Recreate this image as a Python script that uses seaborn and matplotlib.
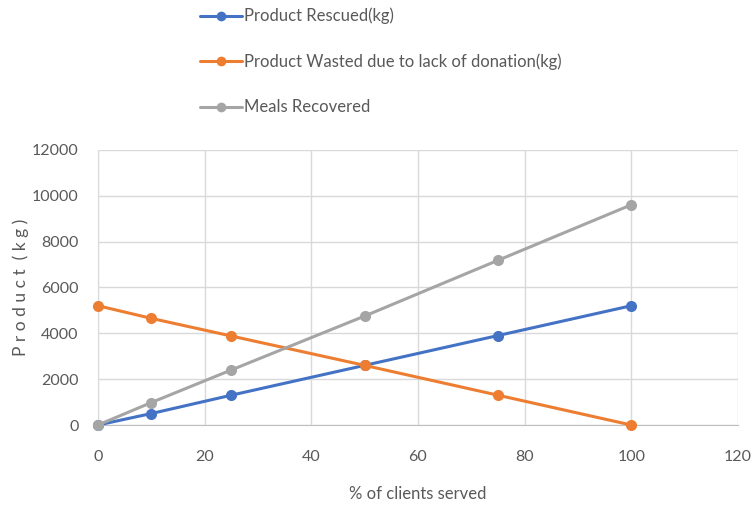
import numpy as np
import pandas as pd
import seaborn as sns
import matplotlib.pyplot as plt

# data
clients = [0, 10, 25, 50, 75, 100]
rescued = [0, 500, 1300, 2600, 3900, 5200]
wasted = [5200, 4650, 3880, 2600, 1300, 0]
meals = [0, 980, 2400, 4750, 7180, 9600]
series_names = ["Product Rescued(kg)",
                "Product Wasted due to lack of donation(kg)",
                "Meals Recovered"]
colors = ["#4472c4", "#ed7d31", "#a5a5a5"]

df = pd.DataFrame({
    "clients": clients * 3,
    "value": rescued + wasted + meals,
    "series": np.repeat(series_names, len(clients)),
})

sns.set_style("white")
plt.rcParams["font.family"] = ["Lato", "DejaVu Sans"]
txt = "#595959"

fig = plt.figure(figsize=(7.51, 5.05), dpi=100)
ax = fig.add_axes([0.1305, 0.1584, 0.852, 0.545])

sns.lineplot(data=df, x="clients", y="value", hue="series", hue_order=series_names,
             palette=colors, marker="o", markersize=8, markeredgewidth=0,
             linewidth=2.2, ax=ax, legend=False, clip_on=False, zorder=3)

ax.set_xlim(0, 120)
ax.set_ylim(0, 12000)
ax.set_xticks(range(0, 121, 20))
ax.set_yticks(range(0, 12001, 2000))
ax.grid(True, color="#d9d9d9", linewidth=1)
for s in ["top", "right"]:
    ax.spines[s].set_visible(False)
ax.spines["left"].set_color("#d9d9d9")
ax.spines["bottom"].set_color("#bfbfbf")
ax.tick_params(axis="both", colors=txt, labelsize=11.5, length=0)
ax.tick_params(axis="x", pad=18)
ax.tick_params(axis="y", pad=14)
ax.set_xlabel("% of clients served", color=txt, fontsize=12, labelpad=16)
ax.set_ylabel("P r o d u c t  ( k g )", color=txt, fontsize=12.5, labelpad=2)

handles = [plt.Line2D([], [], color=c, marker="o", markersize=7, linewidth=2.2,
                      markeredgewidth=0) for c in colors]
leg = fig.legend(handles, series_names, loc="upper left",
                 bbox_to_anchor=(0.247, 1.014), frameon=False, fontsize=12,
                 handlelength=2.5, handletextpad=0.1, labelspacing=1.75)
for t in leg.get_texts():
    t.set_color(txt)

fig.savefig("out.png", dpi=100)
